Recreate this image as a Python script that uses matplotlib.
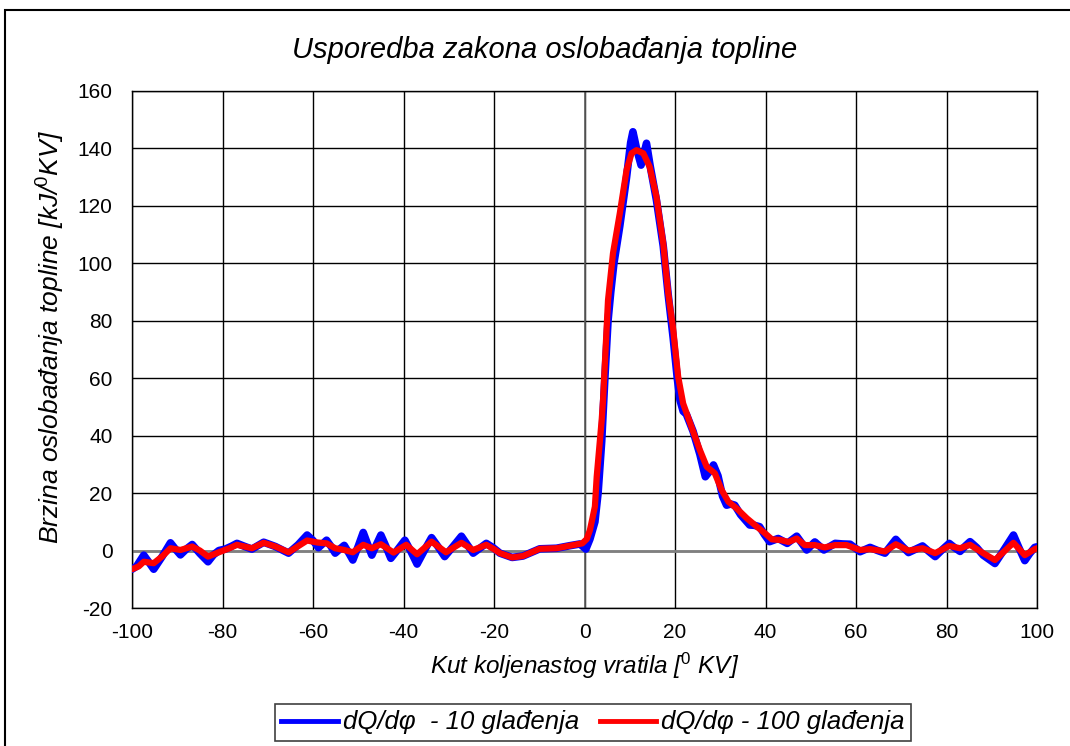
import matplotlib
matplotlib.use("Agg")
import matplotlib.pyplot as plt
from matplotlib.lines import Line2D
from matplotlib.patches import Rectangle

plt.rcParams['font.family'] = ['Liberation Sans', 'DejaVu Sans']
plt.rcParams['mathtext.fontset'] = 'custom'
plt.rcParams['mathtext.rm'] = 'Liberation Sans'
plt.rcParams['mathtext.it'] = 'Liberation Sans:italic'
plt.rcParams['axes.unicode_minus'] = False

# dQ/dphi - 10 gladenja (plava)
x_10 = [-100, -99, -97.4, -96.3, -95.2, -93.3, -91.5, -90.4, -89.3, -88, -86.7, -85, -83.2, -82,
        -80.8, -79.4, -78, -76.8, -75.2, -73.5, -72.2, -70.9, -68.3, -65.4, -63.3, -61.3, -60,
        -58.8, -57.9, -57.0, -56, -55.1, -54.1, -53.1, -52.1, -51.2, -50, -48.9, -48, -47.0, -46,
        -45.0, -43.9, -42.8, -41.2, -39.7, -38.3, -37.0, -35.4, -33.8, -32.3, -30.9, -29, -27.2,
        -25.9, -24.6, -23, -21.7, -20.2, -18.7, -16.0, -13.6, -9.9, -6.2, -3.2, -1.0, 0.3, 1.2,
        2.3, 3.0, 3.8, 4.5, 5.2, 5.8, 6.5, 7.8, 9.3, 10.2, 10.7, 11.5, 12.5, 13.7, 14.5, 15.9,
        17.4, 18.5, 19.6, 20.5, 21.1, 21.8, 22.5, 24.0, 25.5, 26.7, 27.6, 28.5, 29.5, 30.5, 31.4,
        32.3, 33.2, 34.5, 36.5, 37.5, 38.7, 39.8, 40.9, 42.8, 44.8, 46.9, 49.1, 50.9, 52.9, 55.4,
        57, 58.7, 60.9, 63.1, 64.8, 66.4, 67.6, 68.8, 70.2, 71.6, 73.2, 74.7, 76.1, 77.5, 79,
        80.6, 81.8, 83.0, 84.1, 85.2, 86.7, 88.1, 90.7, 92.8, 94.8, 96.0, 97.3, 98.4, 99.5, 100]
y_10 = [-6.5, -5.5, -1.6, -4.0, -6.5, -2.0, 2.7, 0.5, -1.5, 0.5, 2.1, -1.0, -3.9, -1.5,
        0.0, 0.5, 1.5, 2.5, 1.5, 0.5, 1.7, 2.9, 1.4, -0.9, 2.0, 5.4, 3.5,
        1.0, 2.3, 3.6, 1.4, -0.9, 0.5, 1.8, -0.8, -3.3, 1.5, 6.3, 2.5, -1.6, 2.0,
        5.4, 1.5, -2.7, 0.5, 3.6, -0.5, -4.7, 0.0, 4.5, 1.2, -2.1, 1.5, 5.0,
        2.0, -0.9, 1.0, 2.5, 1.0, -0.9, -2.4, -1.9, 0.6, 0.8, 1.7, 2.3, 0.5, 4.0,
        10, 20, 38, 60, 80, 90, 100, 113, 130, 142, 145.8, 140, 134.2, 141.8, 134, 122,
        106, 89, 74, 60, 52.4, 48.5, 47.5, 41.5, 33.5, 25.7, 27.5, 29.8, 26, 19, 15.8,
        16.2, 15.8, 12.5, 8.9, 8.8, 8.3, 5.5, 3.1, 4.2, 2.5, 5.0, 0.2, 3.0, 0.2, 2.5,
        2.3, 2.2, -0.4, 1.1, 0.0, -0.9, 1.5, 3.9, 1.5, -0.7, 0.5, 1.6, -0.3, -2.1, 0.2,
        2.5, 1.0, -0.3, 1.5, 3.1, 1.0, -1.6, -4.5, 0.5, 5.4, 1.0, -3.5, -1.0, 1.1, 1.3]

# dQ/dphi - 100 gladenja (crvena)
x_100 = [-100, -98.5, -97.4, -95.2, -93.3, -91.5, -89.3, -86.7, -85, -83.2, -80.8, -78.5, -76.8,
         -73.5, -70.9, -68.3, -65.4, -63.3, -61.3, -59, -57, -55.1, -53.1, -51.2, -48.9, -47.0,
         -45.0, -42.2, -39.4, -37.0, -33.8, -30.6, -27.2, -24.6, -21.7, -19.9, -18.7, -16.0,
         -13.6, -9.9, -6.2, -3.2, -0.5, 0.5, 1.2, 2.3, 2.7, 3.8, 4.1, 5.2, 6.3, 7.8, 9.3, 10.4,
         11.5, 13.0, 14.4, 15.9, 17.4, 18.5, 19.6, 20.7, 21.8, 24.0, 25.5, 27.0, 28.8, 30.3,
         31.8, 33.6, 35.9, 38.1, 39.9, 41.4, 43.2, 45.1, 46.9, 48.7, 50.9, 53.1, 55.4, 57.9,
         60.9, 63.1, 66.4, 68.8, 71.6, 74.7, 77.5, 80.6, 83.0, 85.2, 88.1, 90.7, 94.8, 97.3,
         99.5, 100]
y_100 = [-6.5, -5.5, -3.9, -4.4, -2.0, 0.8, 0.2, 1.4, 0.0, -2.1, -0.6, 0.8, 2.0,
         0.8, 2.7, 1.4, -0.6, 1.5, 3.5, 2.8, 2.5, 0.8, 0.2, -0.6, 2.0, 0.8,
         2.2, -0.7, 2.0, -1.3, 3.1, -0.6, 2.7, 0.2, 2.0, 0.4, -0.9, -2.4,
         -1.9, 0.6, 0.8, 1.7, 2.5, 4.0, 7.1, 15.3, 25.7, 45.4, 52.4, 87.2, 103.5, 117.4, 132.5, 138.3,
         139.4, 138.3, 133.6, 123.2, 107.0, 89.6, 77, 60.5, 51.2, 41.5, 35.0, 29.2, 26.9, 21.1,
         17.0, 14.7, 11.2, 8.3, 6.0, 3.9, 3.7, 3.0, 4.2, 1.9, 1.9, 1.1, 1.9, 1.9,
         0.2, 0.5, -0.3, 2.2, 0.0, 0.8, -0.9, 1.6, 0.8, 2.0, -0.9, -3.3, 2.7, -1.6,
         0.5, 0.8]

x_ticks = list(range(-100, 101, 20))
y_ticks = list(range(-20, 161, 20))

fig = plt.figure(figsize=(10.7, 7.46), dpi=100)
ax = fig.add_axes([132 / 1070, 1 - 608 / 746, 905 / 1070, 517 / 746])

ax.plot(x_10, y_10, color='#0000ff', lw=5.5, solid_joinstyle='round', solid_capstyle='round', zorder=3)
ax.plot(x_100, y_100, color='#ff0000', lw=4.5, solid_joinstyle='round', solid_capstyle='round', zorder=4)

ax.axhline(0, color='#808080', lw=2, zorder=2)
ax.axvline(0, color='#606060', lw=1.2, zorder=2)

ax.set_xlim(-100, 100)
ax.set_ylim(-20, 160)
ax.set_xticks(x_ticks)
ax.set_yticks(y_ticks)
ax.grid(True, color='black', lw=1)
ax.tick_params(length=0, labelsize=15)
ax.tick_params(axis='y', pad=14)
ax.tick_params(axis='x', pad=11)
for s in ax.spines.values():
    s.set_color('black')
    s.set_linewidth(1)

ax.set_xlabel(r'Kut koljenastog vratila [$^{\mathit{0}}$ KV]', fontsize=17.5, style='italic', labelpad=6)
ax.set_ylabel(r'Brzina oslobađanja topline [kJ/$^{\mathit{0}}$KV]', fontsize=19, style='italic')
ax.yaxis.set_label_coords(-0.072, 0.524)
fig.text(545 / 1070, 1 - 50 / 746, 'Usporedba zakona oslobađanja topline', ha='center', va='center',
         fontsize=21, style='italic')

handles = [Line2D([], [], color='#0000ff', lw=3.5, label='dQ/dφ  - 10 glađenja'),
           Line2D([], [], color='#ff0000', lw=3.5, label='dQ/dφ - 100 glađenja')]
leg = fig.legend(handles=handles, loc='center', bbox_to_anchor=(593 / 1070, 1 - 722.5 / 746), ncol=2,
                 fancybox=False, framealpha=1, edgecolor='#404040', handlelength=2.2,
                 handletextpad=0.2, columnspacing=0.8, borderpad=0.25,
                 prop={'size': 18.5, 'style': 'italic'})
leg.get_frame().set_linewidth(1.2)

fig.patches.append(Rectangle((5 / 1070, -0.02), 1.1, 1.02 - 10 / 746, transform=fig.transFigure,
                             fill=False, edgecolor='black', lw=1.5))

fig.savefig('out.png', dpi=100)
